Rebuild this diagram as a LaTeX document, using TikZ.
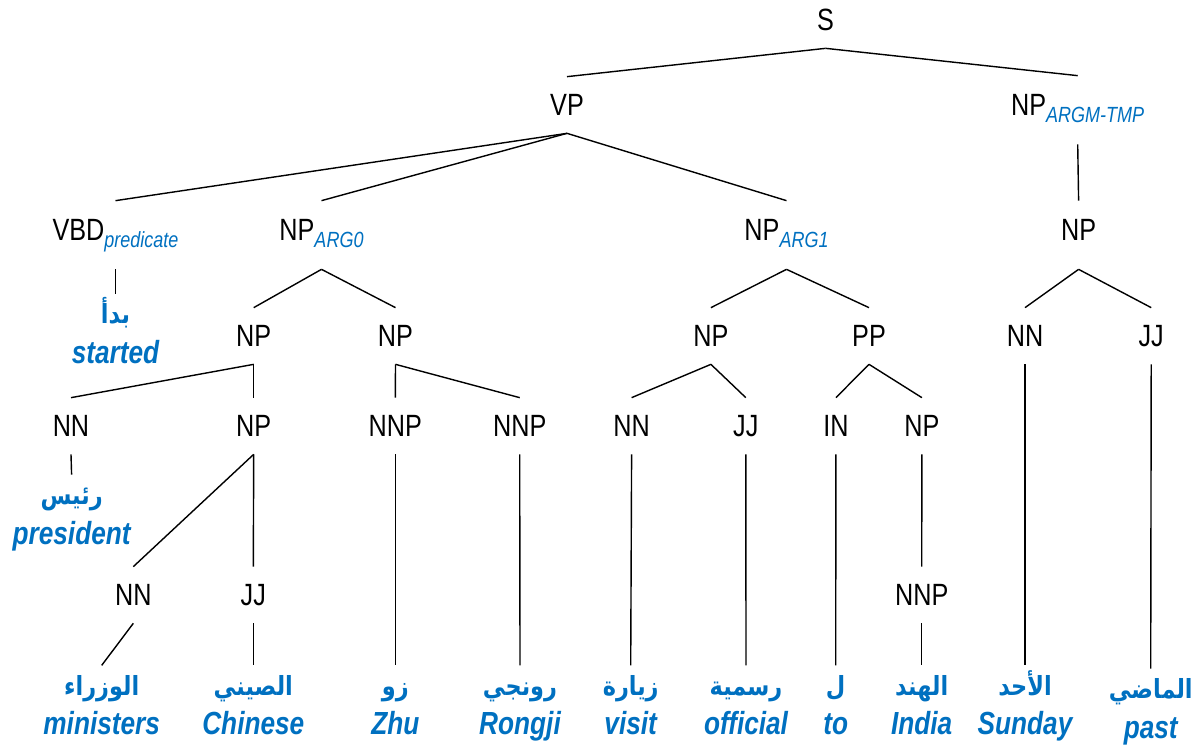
\documentclass[tikz,border=0pt]{standalone}
\usepackage{fontspec}
\setmainfont{Liberation Sans}[FakeStretch=0.82]
\newfontfamily\arabicfont[Script=Arabic, FakeStretch=0.85]{DejaVu Sans}
\TeXXeTstate=1
\usepackage{xcolor}
\usepackage{tikz}
\usetikzlibrary{positioning}

\definecolor{glossblue}{RGB}{0,112,192}
\newcommand{\role}[1]{\raisebox{-4pt}{\fontsize{12.5}{14}\selectfont\itshape\color{glossblue}#1}}

\begin{document}
\begin{tikzpicture}[x=0.02cm, y=-0.02cm, node distance=0.03cm]
  % Define styles
  \tikzstyle{tag} = [inner sep=0pt, font=\fontsize{17.5}{20}\selectfont, text height=12.5pt, text depth=0pt, minimum height=1.12cm]
  \tikzstyle{roletag} = [tag, text depth=5.7pt, minimum height=1.36cm]
  \tikzstyle{arword} = [inner sep=0pt, font=\arabicfont\bfseries\fontsize{15}{18}\selectfont, text=glossblue, text height=12pt, text depth=3.6pt, minimum height=0.88cm]
  \tikzstyle{gloss} = [inner sep=0pt, font=\fontsize{18.2}{20}\selectfont\bfseries\itshape, text=glossblue, text height=13pt, text depth=0pt]
  \tikzstyle{branch} = [draw, line width=0.8pt]

  \useasboundingbox (0,0) rectangle (1202,749);

  % Phrase nodes
  \node [tag] (s) at (825.6,20) {S};
  \node [tag] (vp) at (567,105) {VP};
  \node [roletag] (tmp) at (1077.7,110) {NP\role{ARGM-TMP}};

  \node [roletag] (vbd) at (115.5,235) {VBD\role{predicate}};
  \node [roletag] (arg0) at (321.5,235) {NP\role{ARG0}};
  \node [roletag] (arg1) at (786.5,235) {NP\role{ARG1}};
  \node [roletag] (tmpnp) at (1078.6,235) {NP};

  \node [tag] (np0a) at (253.7,336) {NP};
  \node [tag] (np0b) at (395.5,336) {NP};
  \node [tag] (np1a) at (710.9,336) {NP};
  \node [tag] (pp) at (869,336) {PP};
  \node [tag] (nnsun) at (1025,336) {NN};
  \node [tag] (jjpast) at (1151.2,336) {JJ};

  \node [tag] (nnpres) at (71,426) {NN};
  \node [tag] (np0c) at (253.7,426) {NP};
  \node [tag] (nnpzhu) at (395.3,426) {NNP};
  \node [tag] (nnprong) at (519.7,426) {NNP};
  \node [tag] (nnvisit) at (631.6,426) {NN};
  \node [tag] (jjoff) at (745.8,426) {JJ};
  \node [tag] (into) at (835.9,426) {IN};
  \node [tag] (npind) at (921.9,426) {NP};

  \node [tag] (nnmin) at (133.3,595) {NN};
  \node [tag] (jjchin) at (253.3,595) {JJ};
  \node [tag] (nnpind) at (921.7,595) {NNP};

  % Words with their glosses
  \node [arword] (w-started) at (115.5,316) {\beginR بدأ\endR};
  \node [gloss, below=of w-started] (g-started) {started};
  \node [arword] (w-pres) at (71.6,497) {\beginR رئيس\endR};
  \node [gloss, below=of w-pres] (g-pres) {president};
  \node [arword] (w-min) at (101.7,687.7) {\beginR الوزراء\endR};
  \node [gloss, below=of w-min] (g-min) {ministers};
  \node [arword] (w-chin) at (253.3,687.7) {\beginR الصيني\endR};
  \node [gloss, below=of w-chin] (g-chin) {Chinese};
  \node [arword] (w-zhu) at (395.3,687.7) {\beginR زو\endR};
  \node [gloss, below=of w-zhu] (g-zhu) {Zhu};
  \node [arword] (w-rong) at (520,687.7) {\beginR رونجي\endR};
  \node [gloss, below=of w-rong] (g-rong) {Rongji};
  \node [arword] (w-visit) at (630.7,687.7) {\beginR زيارة\endR};
  \node [gloss, below=of w-visit] (g-visit) {visit};
  \node [arword] (w-off) at (746,687.7) {\beginR رسمية\endR};
  \node [gloss, below=of w-off] (g-off) {official};
  \node [arword] (w-to) at (835.7,687.7) {\beginR ل\endR};
  \node [gloss, below=of w-to] (g-to) {to};
  \node [arword] (w-ind) at (921.7,687.7) {\beginR الهند\endR};
  \node [gloss, below=of w-ind] (g-ind) {India};
  \node [arword] (w-sun) at (1025,687.7) {\beginR الأحد\endR};
  \node [gloss, below=of w-sun] (g-sun) {Sunday};
  \node [arword] (w-past) at (1150.7,691) {\beginR الماضي\endR};
  \node [gloss, below=of w-past] (g-past) {past};

  % Branches
  \draw [branch] (s.south) -- (vp.north);
  \draw [branch] (s.south) -- (tmp.north);
  \draw [branch] (vp.south) -- (vbd.north);
  \draw [branch] (vp.south) -- (arg0.north);
  \draw [branch] (vp.south) -- (arg1.north);
  \draw [branch] (tmp.south) -- (tmpnp.north);

  \draw [branch] (vbd.south) -- (w-started.north);
  \draw [branch] (arg0.south) -- (np0a.north);
  \draw [branch] (arg0.south) -- (np0b.north);
  \draw [branch] (np0a.south) -- (nnpres.north);
  \draw [branch] (np0a.south) -- (np0c.north);
  \draw [branch] (nnpres.south) -- (w-pres.north);
  \draw [branch] (np0c.south) -- (nnmin.north);
  \draw [branch] (np0c.south) -- (jjchin.north);
  \draw [branch] (nnmin.south) -- (w-min.north);
  \draw [branch] (jjchin.south) -- (w-chin.north);
  \draw [branch] (np0b.south) -- (nnpzhu.north);
  \draw [branch] (np0b.south) -- (nnprong.north);
  \draw [branch] (nnpzhu.south) -- (w-zhu.north);
  \draw [branch] (nnprong.south) -- (w-rong.north);

  \draw [branch] (arg1.south) -- (np1a.north);
  \draw [branch] (arg1.south) -- (pp.north);
  \draw [branch] (np1a.south) -- (nnvisit.north);
  \draw [branch] (np1a.south) -- (jjoff.north);
  \draw [branch] (nnvisit.south) -- (w-visit.north);
  \draw [branch] (jjoff.south) -- (w-off.north);
  \draw [branch] (pp.south) -- (into.north);
  \draw [branch] (pp.south) -- (npind.north);
  \draw [branch] (into.south) -- (w-to.north);
  \draw [branch] (npind.south) -- (nnpind.north);
  \draw [branch] (nnpind.south) -- (w-ind.north);

  \draw [branch] (tmpnp.south) -- (nnsun.north);
  \draw [branch] (tmpnp.south) -- (jjpast.north);
  \draw [branch] (nnsun.south) -- (w-sun.north);
  \draw [branch] (jjpast.south) -- (w-past.north);
\end{tikzpicture}
\end{document}
